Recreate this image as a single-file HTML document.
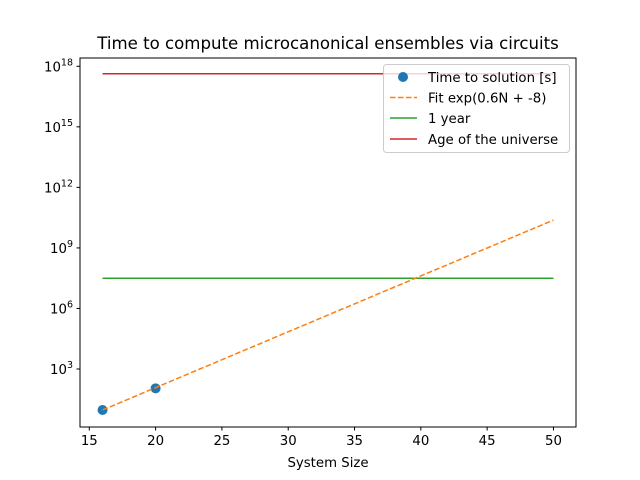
<!DOCTYPE html>
<html><head><meta charset="utf-8"><style>
body{margin:0;background:#fff;}
svg{display:block;font-family:"DejaVu Sans","Liberation Sans",sans-serif;}
</style></head><body>
<svg id="chart" width="640" height="480">
<rect x="0" y="0" width="640" height="480" fill="#fff"/>
<text x="328" y="49" text-anchor="middle" font-size="16.6">Time to compute microcanonical ensembles via circuits</text>
<g id="plot"></g>
<rect x="80" y="58" width="496" height="369" fill="none" stroke="#000" stroke-width="1"/>
<text x="328" y="467" text-anchor="middle" font-size="13.3">System Size</text>
<g>
<rect x="383.5" y="64.5" width="186" height="88" rx="3" fill="#fff" fill-opacity="0.8" stroke="#ccc"/>
<circle cx="403" cy="77" r="5" fill="#1f77b4"/>
<line x1="390" y1="97.5" x2="417" y2="97.5" stroke="#ff7f0e" stroke-width="1.5" stroke-dasharray="5.5,2.5"/>
<line x1="390" y1="118" x2="417" y2="118" stroke="#2ca02c" stroke-width="1.5"/>
<line x1="390" y1="139" x2="417" y2="139" stroke="#d62728" stroke-width="1.5"/>
<text x="428" y="82" font-size="13.3">Time to solution [s]</text>
<text x="428" y="102.5" font-size="13.3">Fit exp(0.6N + -8)</text>
<text x="428" y="123" font-size="13.3">1 year</text>
<text x="428" y="144" font-size="13.3">Age of the universe</text>
</g>
</svg>
<script>
const pointX=[16,20];
const pointY=[9.3,110];
const fitX=[16,50];
const fitY=[9.3,2.4e10];
const yearX=[16,50];
const yearY=[3.15e7,3.15e7];
const universeX=[16,50];
const universeY=[4.3e17,4.3e17];
const xTicks=[15,20,25,30,35,40,45,50];
const yTickExps=[3,6,9,12,15,18];
const NS="http://www.w3.org/2000/svg";
const g=document.getElementById('plot');
function sx(v){return 80+(v-14.3)/(51.7-14.3)*496;}
function sy(v){return 66.3+(18-Math.log10(v))*20.18;}
function mk(t,a){const e=document.createElementNS(NS,t);for(const k in a)e.setAttribute(k,a[k]);g.appendChild(e);return e;}
xTicks.forEach(t=>{
 const l=mk('line',{x1:sx(t),x2:sx(t),y1:427,y2:430.5,stroke:'#000'});
 
 
 const tx=mk('text',{x:sx(t),y:445,'text-anchor':'middle','font-size':'13.3'});
 tx.textContent=t;
 
 
});
yTickExps.forEach(e=>{
 const y=sy(Math.pow(10,e));
 const l=mk('line',{x1:76.5,x2:80,y1:y,y2:y,stroke:'#000'});
 
 
 const tx=mk('text',{x:73,y:y+5,'text-anchor':'end','font-size':'13.3'});
 tx.innerHTML='10<tspan dy="-6" font-size="9.5">'+e+'</tspan>';
 
 
});
function line(xs,ys,color,name,dash){
 const a={x1:sx(xs[0]),y1:sy(ys[0]),x2:sx(xs[1]),y2:sy(ys[1]),stroke:color,'stroke-width':1.5};
 if(dash)a['stroke-dasharray']=dash;
 const l=mk('line',a);
 
 
}
line(universeX,universeY,'#d62728','universe-line');
line(yearX,yearY,'#2ca02c','year-line');
pointX.forEach((x,i)=>{
 const c=mk('circle',{cx:sx(x),cy:sy(pointY[i]),r:5,fill:'#1f77b4'});
 
 
});
line(fitX,fitY,'#ff7f0e','fit-line','5.5,2.5');
</script>
</body></html>
